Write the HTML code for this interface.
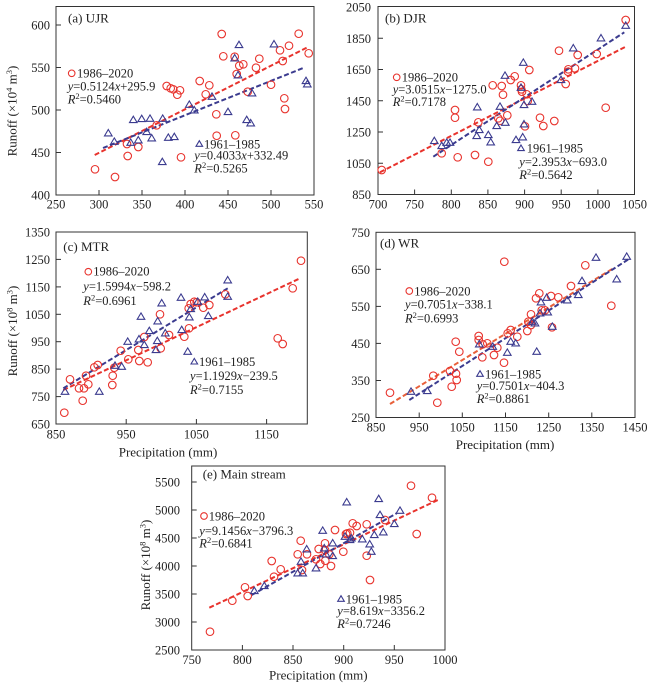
<!DOCTYPE html>
<html><head><meta charset="utf-8"><style>
html,body{margin:0;padding:0;background:#fff;}
svg{display:block;font-family:"Liberation Serif",serif;}
.t{font-size:12.5px;fill:#222;}
.ti{font-size:13px;fill:#222;}
.ax{font-size:13px;fill:#222;}
.fr{fill:none;stroke:#333;stroke-width:1;}
.tk{stroke:#333;stroke-width:1;}
.rc circle{fill:none;stroke:#e8332d;stroke-width:1.1;}
.bt path{fill:none;stroke:#3b3b8f;stroke-width:1.1;}
.rl{stroke:#e8332d;stroke-width:2;stroke-dasharray:5 2.5;fill:none;}
.bl{stroke:#3b3b8f;stroke-width:2;stroke-dasharray:5 2.5;fill:none;}
.i{font-style:italic;}
</style></head><body>
<svg width="650" height="684" viewBox="0 0 650 684" xmlns="http://www.w3.org/2000/svg">

<!-- ========== Panel (a) ========== -->
<rect class="fr" x="56" y="6.5" width="258" height="188.5"/>
<g class="tk">
<line x1="99" y1="195" x2="99" y2="190"/><line x1="142" y1="195" x2="142" y2="190"/><line x1="185" y1="195" x2="185" y2="190"/><line x1="228" y1="195" x2="228" y2="190"/><line x1="271" y1="195" x2="271" y2="190"/>
<line x1="56" y1="152.5" x2="61" y2="152.5"/><line x1="56" y1="110" x2="61" y2="110"/><line x1="56" y1="67.5" x2="61" y2="67.5"/><line x1="56" y1="25" x2="61" y2="25"/>
</g>
<g class="t" text-anchor="end">
<text x="50" y="199.5">400</text><text x="50" y="157">450</text><text x="50" y="114.5">500</text><text x="50" y="72">550</text><text x="50" y="29.5">600</text>
</g>
<g class="t" text-anchor="middle">
<text x="56" y="208.5">250</text><text x="99" y="208.5">300</text><text x="142" y="208.5">350</text><text x="185" y="208.5">400</text><text x="228" y="208.5">450</text><text x="271" y="208.5">500</text><text x="314" y="208.5">550</text>
</g>
<text class="ax" transform="translate(16.5,111) rotate(-90)" text-anchor="middle">Runoff (×10<tspan font-size="8.5" dy="-4.5">4</tspan><tspan dy="4.5"> m</tspan><tspan font-size="8.5" dy="-4.5">3</tspan><tspan dy="4.5">)</tspan></text>
<text class="ti" x="68" y="22.5">(a) UJR</text>
<path class="rl" d="M94.7,155 L308,47"/>
<path class="bl" d="M103,148 L305,67.3"/>
<g class="rc">
<circle cx="95" cy="169.3" r="3.8"/><circle cx="115" cy="177" r="3.8"/><circle cx="127" cy="144" r="3.8"/><circle cx="127.7" cy="156" r="3.8"/><circle cx="138.3" cy="147" r="3.8"/><circle cx="156.7" cy="125.3" r="3.8"/><circle cx="166.7" cy="86" r="3.8"/><circle cx="170.7" cy="88.3" r="3.8"/><circle cx="173.3" cy="89.3" r="3.8"/><circle cx="177.3" cy="94.7" r="3.8"/><circle cx="180" cy="90.3" r="3.8"/><circle cx="181" cy="157.3" r="3.8"/><circle cx="199.7" cy="81" r="3.8"/><circle cx="205.7" cy="94.3" r="3.8"/><circle cx="209.3" cy="85.3" r="3.8"/><circle cx="216.3" cy="114.3" r="3.8"/><circle cx="216.7" cy="135.7" r="3.8"/><circle cx="221.7" cy="34" r="3.8"/><circle cx="223.3" cy="56.3" r="3.8"/><circle cx="234.7" cy="56.7" r="3.8"/><circle cx="235.3" cy="135.3" r="3.8"/><circle cx="236.7" cy="74" r="3.8"/><circle cx="239.3" cy="65.7" r="3.8"/><circle cx="243.3" cy="64.3" r="3.8"/><circle cx="247.7" cy="91.7" r="3.8"/><circle cx="256" cy="67.7" r="3.8"/><circle cx="259.3" cy="58.7" r="3.8"/><circle cx="271" cy="84.7" r="3.8"/><circle cx="280" cy="50.3" r="3.8"/><circle cx="282.7" cy="61" r="3.8"/><circle cx="284.3" cy="98.3" r="3.8"/><circle cx="285" cy="109" r="3.8"/><circle cx="289" cy="45.7" r="3.8"/><circle cx="298.7" cy="33.7" r="3.8"/><circle cx="308.7" cy="53.3" r="3.8"/>
<circle cx="71.7" cy="73.3" r="3.3"/>
</g>
<g class="bt">
<path d="M108.3,133.3m0,-3.8l3.8,6.4h-7.6z"/><path d="M114.3,141.7m0,-3.8l3.8,6.4h-7.6z"/><path d="M130.7,142.7m0,-3.8l3.8,6.4h-7.6z"/><path d="M138.3,140.3m0,-3.8l3.8,6.4h-7.6z"/><path d="M133.3,120m0,-3.8l3.8,6.4h-7.6z"/><path d="M141.7,119m0,-3.8l3.8,6.4h-7.6z"/><path d="M150,118.7m0,-3.8l3.8,6.4h-7.6z"/><path d="M162.7,118.7m0,-3.8l3.8,6.4h-7.6z"/><path d="M146.7,132m0,-3.8l3.8,6.4h-7.6z"/><path d="M151.7,138.3m0,-3.8l3.8,6.4h-7.6z"/><path d="M162.3,162m0,-3.8l3.8,6.4h-7.6z"/><path d="M168.3,137.7m0,-3.8l3.8,6.4h-7.6z"/><path d="M174.3,137m0,-3.8l3.8,6.4h-7.6z"/><path d="M189.3,104.7m0,-3.8l3.8,6.4h-7.6z"/><path d="M194.3,110.3m0,-3.8l3.8,6.4h-7.6z"/><path d="M212,96.7m0,-3.8l3.8,6.4h-7.6z"/><path d="M228,112m0,-3.8l3.8,6.4h-7.6z"/><path d="M234.7,58.3m0,-3.8l3.8,6.4h-7.6z"/><path d="M239,45m0,-3.8l3.8,6.4h-7.6z"/><path d="M238,75.3m0,-3.8l3.8,6.4h-7.6z"/><path d="M246.7,120m0,-3.8l3.8,6.4h-7.6z"/><path d="M250.7,123.3m0,-3.8l3.8,6.4h-7.6z"/><path d="M252,93.3m0,-3.8l3.8,6.4h-7.6z"/><path d="M274,44.3m0,-3.8l3.8,6.4h-7.6z"/><path d="M306,81m0,-3.8l3.8,6.4h-7.6z"/><path d="M307.3,84.3m0,-3.8l3.8,6.4h-7.6z"/>
<path d="M199.3,144m0,-3.3l3.3,5.6h-6.6z"/>
</g>
<g class="t">
<text x="77" y="77.5">1986–2020</text>
<text x="67.7" y="90.3"><tspan class="i">y</tspan>=0.5124<tspan class="i">x</tspan>+295.9</text>
<text x="67.7" y="103.5"><tspan class="i">R</tspan><tspan font-size="8.5" dy="-4.5">2</tspan><tspan dy="4.5">=0.5460</tspan></text>
<text x="204" y="148.3">1961–1985</text>
<text x="194.3" y="159.3"><tspan class="i">y</tspan>=0.4033<tspan class="i">x</tspan>+332.49</text>
<text x="194.3" y="172.5"><tspan class="i">R</tspan><tspan font-size="8.5" dy="-4.5">2</tspan><tspan dy="4.5">=0.5265</tspan></text>
</g>

<!-- ========== Panel (b) ========== -->
<rect class="fr" x="378" y="6.5" width="256.5" height="188"/>
<g class="tk">
<line x1="414.6" y1="194.5" x2="414.6" y2="189.5"/><line x1="451.3" y1="194.5" x2="451.3" y2="189.5"/><line x1="487.9" y1="194.5" x2="487.9" y2="189.5"/><line x1="524.6" y1="194.5" x2="524.6" y2="189.5"/><line x1="561.2" y1="194.5" x2="561.2" y2="189.5"/><line x1="597.9" y1="194.5" x2="597.9" y2="189.5"/>
<line x1="378" y1="163.25" x2="383" y2="163.25"/><line x1="378" y1="132" x2="383" y2="132"/><line x1="378" y1="100.75" x2="383" y2="100.75"/><line x1="378" y1="69.5" x2="383" y2="69.5"/><line x1="378" y1="38.25" x2="383" y2="38.25"/>
</g>
<g class="t" text-anchor="end">
<text x="371" y="199">850</text><text x="371" y="167.75">1050</text><text x="371" y="136.5">1250</text><text x="371" y="105.25">1450</text><text x="371" y="74">1650</text><text x="371" y="42.75">1850</text><text x="371" y="11.5">2050</text>
</g>
<g class="t" text-anchor="middle">
<text x="378" y="208.5">700</text><text x="414.6" y="208.5">750</text><text x="451.3" y="208.5">800</text><text x="487.9" y="208.5">850</text><text x="524.6" y="208.5">900</text><text x="561.2" y="208.5">950</text><text x="597.9" y="208.5">1000</text><text x="634.5" y="208.5">1050</text>
</g>
<text class="ti" x="385" y="22.5">(b) DJR</text>
<path class="rl" d="M380,172.3 L625.7,46.7"/>
<path class="bl" d="M433.3,156.7 L624.3,32.3"/>
<g class="rc">
<circle cx="381.7" cy="170" r="3.8"/><circle cx="441.7" cy="153.3" r="3.8"/><circle cx="457.7" cy="157.3" r="3.8"/><circle cx="455" cy="110" r="3.8"/><circle cx="455" cy="117.7" r="3.8"/><circle cx="475" cy="155" r="3.8"/><circle cx="478.3" cy="122.3" r="3.8"/><circle cx="488.3" cy="161.7" r="3.8"/><circle cx="492.7" cy="85.3" r="3.8"/><circle cx="498.3" cy="118.3" r="3.8"/><circle cx="500" cy="120.7" r="3.8"/><circle cx="501.7" cy="86" r="3.8"/><circle cx="503" cy="94.7" r="3.8"/><circle cx="507.3" cy="115.3" r="3.8"/><circle cx="510.7" cy="80" r="3.8"/><circle cx="514.7" cy="76.3" r="3.8"/><circle cx="521" cy="85.3" r="3.8"/><circle cx="521.3" cy="89.3" r="3.8"/><circle cx="522" cy="91.7" r="3.8"/><circle cx="525" cy="126.3" r="3.8"/><circle cx="526.7" cy="94.3" r="3.8"/><circle cx="527.7" cy="101" r="3.8"/><circle cx="529.3" cy="70" r="3.8"/><circle cx="540" cy="117.7" r="3.8"/><circle cx="543.3" cy="126" r="3.8"/><circle cx="554.3" cy="121" r="3.8"/><circle cx="559" cy="50.7" r="3.8"/><circle cx="565.7" cy="84" r="3.8"/><circle cx="568.3" cy="69.3" r="3.8"/><circle cx="568" cy="71.7" r="3.8"/><circle cx="575" cy="68.3" r="3.8"/><circle cx="577.7" cy="55" r="3.8"/><circle cx="596.7" cy="54" r="3.8"/><circle cx="605.7" cy="107.7" r="3.8"/><circle cx="625.7" cy="20" r="3.8"/>
<circle cx="396.7" cy="77.3" r="3.3"/>
</g>
<g class="bt">
<path d="M434.3,141m0,-3.8l3.8,6.4h-7.6z"/><path d="M441.7,146m0,-3.8l3.8,6.4h-7.6z"/><path d="M446.7,142.7m0,-3.8l3.8,6.4h-7.6z"/><path d="M450,142.7m0,-3.8l3.8,6.4h-7.6z"/><path d="M477.3,107.3m0,-3.8l3.8,6.4h-7.6z"/><path d="M476.7,136m0,-3.8l3.8,6.4h-7.6z"/><path d="M479.3,130m0,-3.8l3.8,6.4h-7.6z"/><path d="M488.3,135m0,-3.8l3.8,6.4h-7.6z"/><path d="M490.7,142.3m0,-3.8l3.8,6.4h-7.6z"/><path d="M496.7,126m0,-3.8l3.8,6.4h-7.6z"/><path d="M500,106.7m0,-3.8l3.8,6.4h-7.6z"/><path d="M505,75.7m0,-3.8l3.8,6.4h-7.6z"/><path d="M505.3,122.7m0,-3.8l3.8,6.4h-7.6z"/><path d="M516,140m0,-3.8l3.8,6.4h-7.6z"/><path d="M523.3,62.7m0,-3.8l3.8,6.4h-7.6z"/><path d="M521,87.7m0,-3.8l3.8,6.4h-7.6z"/><path d="M522.7,137.3m0,-3.8l3.8,6.4h-7.6z"/><path d="M524,105m0,-3.8l3.8,6.4h-7.6z"/><path d="M524,124.3m0,-3.8l3.8,6.4h-7.6z"/><path d="M532,101.7m0,-3.8l3.8,6.4h-7.6z"/><path d="M561,80m0,-3.8l3.8,6.4h-7.6z"/><path d="M573.3,48.3m0,-3.8l3.8,6.4h-7.6z"/><path d="M601,38.3m0,-3.8l3.8,6.4h-7.6z"/><path d="M625.7,25.7m0,-3.8l3.8,6.4h-7.6z"/>
<path d="M521,148.3m0,-3.3l3.3,5.6h-6.6z"/>
</g>
<g class="t">
<text x="401.7" y="81.5">1986–2020</text>
<text x="392.7" y="93.5"><tspan class="i">y</tspan>=3.0515<tspan class="i">x</tspan>−1275.0</text>
<text x="392.7" y="106"><tspan class="i">R</tspan><tspan font-size="8.5" dy="-4.5">2</tspan><tspan dy="4.5">=0.7178</tspan></text>
<text x="526.7" y="152.5">1961–1985</text>
<text x="519.3" y="166"><tspan class="i">y</tspan>=2.3953<tspan class="i">x</tspan>−693.0</text>
<text x="519.3" y="179"><tspan class="i">R</tspan><tspan font-size="8.5" dy="-4.5">2</tspan><tspan dy="4.5">=0.5642</tspan></text>
</g>

<!-- ========== Panel (c) ========== -->
<rect class="fr" x="56" y="232" width="251.3" height="192"/>
<g class="tk">
<line x1="126.2" y1="424" x2="126.2" y2="419"/><line x1="196.4" y1="424" x2="196.4" y2="419"/><line x1="266.6" y1="424" x2="266.6" y2="419"/>
<line x1="56" y1="396.6" x2="61" y2="396.6"/><line x1="56" y1="369.1" x2="61" y2="369.1"/><line x1="56" y1="341.7" x2="61" y2="341.7"/><line x1="56" y1="314.3" x2="61" y2="314.3"/><line x1="56" y1="286.9" x2="61" y2="286.9"/><line x1="56" y1="259.4" x2="61" y2="259.4"/>
</g>
<g class="t" text-anchor="end">
<text x="50" y="428.5">650</text><text x="50" y="401.1">750</text><text x="50" y="373.6">850</text><text x="50" y="346.2">950</text><text x="50" y="318.8">1050</text><text x="50" y="291.4">1150</text><text x="50" y="263.9">1250</text><text x="50" y="236.5">1350</text>
</g>
<g class="t" text-anchor="middle">
<text x="56" y="438.5">850</text><text x="126.2" y="438.5">950</text><text x="196.4" y="438.5">1050</text><text x="266.6" y="438.5">1150</text>
</g>
<text class="ax" x="168" y="456.5" text-anchor="middle">Precipitation (mm)</text>
<text class="ax" transform="translate(17,331) rotate(-90)" text-anchor="middle">Runoff (×10<tspan font-size="8.5" dy="-4.5">8</tspan><tspan dy="4.5"> m</tspan><tspan font-size="8.5" dy="-4.5">3</tspan><tspan dy="4.5">)</tspan></text>
<text class="ti" x="63.3" y="251">(c) MTR</text>
<path class="rl" d="M63.3,390 L300,278.3"/>
<path class="bl" d="M63.3,388.3 L227.7,288.3"/>
<g class="rc">
<circle cx="64.3" cy="412.7" r="3.8"/><circle cx="70" cy="379.3" r="3.8"/><circle cx="79" cy="388.3" r="3.8"/><circle cx="82.7" cy="400.7" r="3.8"/><circle cx="84" cy="388.3" r="3.8"/><circle cx="86" cy="375.7" r="3.8"/><circle cx="88.3" cy="384.3" r="3.8"/><circle cx="94.3" cy="367.3" r="3.8"/><circle cx="97.7" cy="365" r="3.8"/><circle cx="112.3" cy="385" r="3.8"/><circle cx="112.7" cy="375.7" r="3.8"/><circle cx="114.3" cy="367.7" r="3.8"/><circle cx="120.7" cy="350.7" r="3.8"/><circle cx="128.3" cy="359.3" r="3.8"/><circle cx="138.3" cy="350" r="3.8"/><circle cx="139.3" cy="361" r="3.8"/><circle cx="144.3" cy="337" r="3.8"/><circle cx="147.7" cy="362.3" r="3.8"/><circle cx="160" cy="314.3" r="3.8"/><circle cx="160.7" cy="348.3" r="3.8"/><circle cx="169" cy="335" r="3.8"/><circle cx="184.3" cy="336.7" r="3.8"/><circle cx="189" cy="328.3" r="3.8"/><circle cx="188.7" cy="308.3" r="3.8"/><circle cx="190.7" cy="304" r="3.8"/><circle cx="194.3" cy="301.7" r="3.8"/><circle cx="196.7" cy="302.3" r="3.8"/><circle cx="203.3" cy="307.7" r="3.8"/><circle cx="209.3" cy="305" r="3.8"/><circle cx="225.3" cy="294.3" r="3.8"/><circle cx="277.7" cy="338.3" r="3.8"/><circle cx="282.7" cy="344" r="3.8"/><circle cx="292.7" cy="288.3" r="3.8"/><circle cx="301" cy="260.7" r="3.8"/>
<circle cx="88.3" cy="271.7" r="3.3"/>
</g>
<g class="bt">
<path d="M65,391.7m0,-3.8l3.8,6.4h-7.6z"/><path d="M99.3,391.7m0,-3.8l3.8,6.4h-7.6z"/><path d="M115,365.7m0,-3.8l3.8,6.4h-7.6z"/><path d="M121.7,366.7m0,-3.8l3.8,6.4h-7.6z"/><path d="M127.7,341.7m0,-3.8l3.8,6.4h-7.6z"/><path d="M139,339.3m0,-3.8l3.8,6.4h-7.6z"/><path d="M141,316.7m0,-3.8l3.8,6.4h-7.6z"/><path d="M144.3,345m0,-3.8l3.8,6.4h-7.6z"/><path d="M149.3,331m0,-3.8l3.8,6.4h-7.6z"/><path d="M156,350m0,-3.8l3.8,6.4h-7.6z"/><path d="M157.3,341m0,-3.8l3.8,6.4h-7.6z"/><path d="M157.7,321.3m0,-3.8l3.8,6.4h-7.6z"/><path d="M161.7,303.3m0,-3.8l3.8,6.4h-7.6z"/><path d="M165.3,333.3m0,-3.8l3.8,6.4h-7.6z"/><path d="M181,297.7m0,-3.8l3.8,6.4h-7.6z"/><path d="M181.7,330m0,-3.8l3.8,6.4h-7.6z"/><path d="M187.7,351.7m0,-3.8l3.8,6.4h-7.6z"/><path d="M189.3,317.3m0,-3.8l3.8,6.4h-7.6z"/><path d="M190.7,309m0,-3.8l3.8,6.4h-7.6z"/><path d="M197.7,301.7m0,-3.8l3.8,6.4h-7.6z"/><path d="M204.7,297.3m0,-3.8l3.8,6.4h-7.6z"/><path d="M208.3,316m0,-3.8l3.8,6.4h-7.6z"/><path d="M227.7,280.3m0,-3.8l3.8,6.4h-7.6z"/><path d="M227.7,296.7m0,-3.8l3.8,6.4h-7.6z"/>
<path d="M194.3,361.7m0,-3.3l3.3,5.6h-6.6z"/>
</g>
<g class="t">
<text x="93.3" y="275.7">1986–2020</text>
<text x="83.3" y="290.7"><tspan class="i">y</tspan>=1.5994<tspan class="i">x</tspan>−598.2</text>
<text x="83.3" y="305"><tspan class="i">R</tspan><tspan font-size="8.5" dy="-4.5">2</tspan><tspan dy="4.5">=0.6961</tspan></text>
<text x="199" y="366">1961–1985</text>
<text x="190" y="380"><tspan class="i">y</tspan>=1.1929<tspan class="i">x</tspan>−239.5</text>
<text x="190" y="394"><tspan class="i">R</tspan><tspan font-size="8.5" dy="-4.5">2</tspan><tspan dy="4.5">=0.7155</tspan></text>
</g>

<!-- ========== Panel (d) ========== -->
<rect class="fr" x="376" y="232.3" width="259" height="185.2"/>
<g class="tk">
<line x1="419.2" y1="417.5" x2="419.2" y2="412.5"/><line x1="462.3" y1="417.5" x2="462.3" y2="412.5"/><line x1="505.5" y1="417.5" x2="505.5" y2="412.5"/><line x1="548.7" y1="417.5" x2="548.7" y2="412.5"/><line x1="591.8" y1="417.5" x2="591.8" y2="412.5"/>
<line x1="376" y1="380.5" x2="381" y2="380.5"/><line x1="376" y1="343.4" x2="381" y2="343.4"/><line x1="376" y1="306.4" x2="381" y2="306.4"/><line x1="376" y1="269.3" x2="381" y2="269.3"/>
</g>
<g class="t" text-anchor="end">
<text x="370" y="422">250</text><text x="370" y="385">350</text><text x="370" y="347.9">450</text><text x="370" y="310.9">550</text><text x="370" y="273.8">650</text><text x="370" y="236.8">750</text>
</g>
<g class="t" text-anchor="middle">
<text x="376" y="431.5">850</text><text x="419.2" y="431.5">950</text><text x="462.3" y="431.5">1050</text><text x="505.5" y="431.5">1150</text><text x="548.7" y="431.5">1250</text><text x="591.8" y="431.5">1350</text><text x="635" y="431.5">1450</text>
</g>
<text class="ax" x="505" y="449" text-anchor="middle">Precipitation (mm)</text>
<text class="ti" x="380" y="247.5">(d) WR</text>
<path class="rl" d="M390,404 L613.3,268.3" style="stroke:#e8603a"/>
<path class="bl" d="M409.3,400 L630,258.3"/>
<g class="rc">
<circle cx="390" cy="392.7" r="3.8"/><circle cx="433.3" cy="375.7" r="3.8"/><circle cx="437.3" cy="402.7" r="3.8"/><circle cx="450" cy="371" r="3.8"/><circle cx="451.7" cy="386.7" r="3.8"/><circle cx="455.7" cy="341.7" r="3.8"/><circle cx="456" cy="373.7" r="3.8"/><circle cx="456.7" cy="380" r="3.8"/><circle cx="459.3" cy="351.7" r="3.8"/><circle cx="478.7" cy="336" r="3.8"/><circle cx="478.7" cy="340" r="3.8"/><circle cx="482.3" cy="357.3" r="3.8"/><circle cx="482.7" cy="344.3" r="3.8"/><circle cx="487.3" cy="343.3" r="3.8"/><circle cx="494" cy="355" r="3.8"/><circle cx="497.3" cy="347.7" r="3.8"/><circle cx="504.3" cy="261.7" r="3.8"/><circle cx="504" cy="362.7" r="3.8"/><circle cx="507.7" cy="333.3" r="3.8"/><circle cx="510.7" cy="330" r="3.8"/><circle cx="517.3" cy="336.7" r="3.8"/><circle cx="527.3" cy="331" r="3.8"/><circle cx="528.3" cy="321.7" r="3.8"/><circle cx="531" cy="325" r="3.8"/><circle cx="531" cy="314.3" r="3.8"/><circle cx="536" cy="298.3" r="3.8"/><circle cx="539.3" cy="293.3" r="3.8"/><circle cx="541.7" cy="310.3" r="3.8"/><circle cx="545" cy="310.3" r="3.8"/><circle cx="551" cy="296" r="3.8"/><circle cx="552" cy="327.3" r="3.8"/><circle cx="558.3" cy="297.3" r="3.8"/><circle cx="571" cy="286" r="3.8"/><circle cx="585.3" cy="265.3" r="3.8"/><circle cx="611.3" cy="305.7" r="3.8"/>
<circle cx="409.3" cy="291" r="3.3"/>
</g>
<g class="bt">
<path d="M411,391.7m0,-3.8l3.8,6.4h-7.6z"/><path d="M427.3,391m0,-3.8l3.8,6.4h-7.6z"/><path d="M479.3,344.3m0,-3.8l3.8,6.4h-7.6z"/><path d="M492.7,346.7m0,-3.8l3.8,6.4h-7.6z"/><path d="M507.3,352.7m0,-3.8l3.8,6.4h-7.6z"/><path d="M510.7,341.7m0,-3.8l3.8,6.4h-7.6z"/><path d="M515.7,343.3m0,-3.8l3.8,6.4h-7.6z"/><path d="M532.3,321.7m0,-3.8l3.8,6.4h-7.6z"/><path d="M535,323.3m0,-3.8l3.8,6.4h-7.6z"/><path d="M536.7,351.7m0,-3.8l3.8,6.4h-7.6z"/><path d="M540,313.3m0,-3.8l3.8,6.4h-7.6z"/><path d="M541,302.3m0,-3.8l3.8,6.4h-7.6z"/><path d="M546.7,297.7m0,-3.8l3.8,6.4h-7.6z"/><path d="M547.7,312.3m0,-3.8l3.8,6.4h-7.6z"/><path d="M552.3,326.7m0,-3.8l3.8,6.4h-7.6z"/><path d="M567.3,300.3m0,-3.8l3.8,6.4h-7.6z"/><path d="M578.3,295m0,-3.8l3.8,6.4h-7.6z"/><path d="M582,281m0,-3.8l3.8,6.4h-7.6z"/><path d="M596,257.7m0,-3.8l3.8,6.4h-7.6z"/><path d="M616.7,279.3m0,-3.8l3.8,6.4h-7.6z"/><path d="M626.7,256.7m0,-3.8l3.8,6.4h-7.6z"/>
<path d="M480,374m0,-3.3l3.3,5.6h-6.6z"/>
</g>
<g class="t">
<text x="414.3" y="295.3">1986–2020</text>
<text x="405" y="308.5"><tspan class="i">y</tspan>=0.7051<tspan class="i">x</tspan>−338.1</text>
<text x="405" y="322.5"><tspan class="i">R</tspan><tspan font-size="8.5" dy="-4.5">2</tspan><tspan dy="4.5">=0.6993</tspan></text>
<text x="485" y="378.3">1961–1985</text>
<text x="476.7" y="390"><tspan class="i">y</tspan>=0.7501<tspan class="i">x</tspan>−404.3</text>
<text x="476.7" y="403"><tspan class="i">R</tspan><tspan font-size="8.5" dy="-4.5">2</tspan><tspan dy="4.5">=0.8861</tspan></text>
</g>

<!-- ========== Panel (e) ========== -->
<rect class="fr" x="191.7" y="466" width="253.3" height="184"/>
<g class="tk">
<line x1="242.4" y1="650" x2="242.4" y2="645"/><line x1="293" y1="650" x2="293" y2="645"/><line x1="343.7" y1="650" x2="343.7" y2="645"/><line x1="394.3" y1="650" x2="394.3" y2="645"/>
<line x1="191.7" y1="622" x2="196.7" y2="622"/><line x1="191.7" y1="594" x2="196.7" y2="594"/><line x1="191.7" y1="566" x2="196.7" y2="566"/><line x1="191.7" y1="538" x2="196.7" y2="538"/><line x1="191.7" y1="510" x2="196.7" y2="510"/><line x1="191.7" y1="482" x2="196.7" y2="482"/>
</g>
<g class="t" text-anchor="end">
<text x="180" y="654.5">2500</text><text x="180" y="626.5">3000</text><text x="180" y="598.5">3500</text><text x="180" y="570.5">4000</text><text x="180" y="542.5">4500</text><text x="180" y="514.5">5000</text><text x="180" y="486.5">5500</text>
</g>
<g class="t" text-anchor="middle">
<text x="191.7" y="664">750</text><text x="242.4" y="664">800</text><text x="293" y="664">850</text><text x="343.7" y="664">900</text><text x="394.3" y="664">950</text><text x="445" y="664">1000</text>
</g>
<text class="ax" x="318.3" y="679.5" text-anchor="middle">Precipitation (mm)</text>
<text class="ax" transform="translate(150,565) rotate(-90)" text-anchor="middle">Runoff (×10<tspan font-size="8.5" dy="-4.5">8</tspan><tspan dy="4.5"> m</tspan><tspan font-size="8.5" dy="-4.5">3</tspan><tspan dy="4.5">)</tspan></text>
<text class="ti" x="202.7" y="478.5">(e) Main stream</text>
<path class="rl" d="M209.3,607.7 L439.3,499.3"/>
<path class="bl" d="M251.7,595 L396.7,513.3"/>
<g class="rc">
<circle cx="210" cy="631.7" r="3.8"/><circle cx="232.3" cy="600.7" r="3.8"/><circle cx="245" cy="587.3" r="3.8"/><circle cx="247.7" cy="596" r="3.8"/><circle cx="271.7" cy="561" r="3.8"/><circle cx="274" cy="576.7" r="3.8"/><circle cx="280.7" cy="569.3" r="3.8"/><circle cx="297.7" cy="554.3" r="3.8"/><circle cx="300.7" cy="540.7" r="3.8"/><circle cx="302" cy="570" r="3.8"/><circle cx="307" cy="554.3" r="3.8"/><circle cx="316" cy="559.3" r="3.8"/><circle cx="318.7" cy="549" r="3.8"/><circle cx="320.3" cy="564" r="3.8"/><circle cx="325" cy="543.3" r="3.8"/><circle cx="325" cy="550" r="3.8"/><circle cx="325.3" cy="560.7" r="3.8"/><circle cx="329.3" cy="554.3" r="3.8"/><circle cx="331" cy="566" r="3.8"/><circle cx="335" cy="530" r="3.8"/><circle cx="343.3" cy="551.7" r="3.8"/><circle cx="346" cy="534" r="3.8"/><circle cx="347.3" cy="533.3" r="3.8"/><circle cx="350" cy="532.7" r="3.8"/><circle cx="352.7" cy="523.3" r="3.8"/><circle cx="356.7" cy="526" r="3.8"/><circle cx="366.7" cy="524.3" r="3.8"/><circle cx="366.7" cy="555.7" r="3.8"/><circle cx="370" cy="580" r="3.8"/><circle cx="385" cy="520" r="3.8"/><circle cx="411" cy="485.7" r="3.8"/><circle cx="416.7" cy="534" r="3.8"/><circle cx="432" cy="497.7" r="3.8"/>
<circle cx="204" cy="516" r="3.3"/>
</g>
<g class="bt">
<path d="M254.3,591m0,-3.8l3.8,6.4h-7.6z"/><path d="M264.3,586m0,-3.8l3.8,6.4h-7.6z"/><path d="M297.7,573.3m0,-3.8l3.8,6.4h-7.6z"/><path d="M302.7,573.3m0,-3.8l3.8,6.4h-7.6z"/><path d="M301,561.7m0,-3.8l3.8,6.4h-7.6z"/><path d="M306.7,549.3m0,-3.8l3.8,6.4h-7.6z"/><path d="M316,568.3m0,-3.8l3.8,6.4h-7.6z"/><path d="M322.7,530.7m0,-3.8l3.8,6.4h-7.6z"/><path d="M324.3,548.3m0,-3.8l3.8,6.4h-7.6z"/><path d="M326,554.3m0,-3.8l3.8,6.4h-7.6z"/><path d="M332.7,543.3m0,-3.8l3.8,6.4h-7.6z"/><path d="M332.7,556m0,-3.8l3.8,6.4h-7.6z"/><path d="M346.7,502.3m0,-3.8l3.8,6.4h-7.6z"/><path d="M350,540m0,-3.8l3.8,6.4h-7.6z"/><path d="M351.3,538.3m0,-3.8l3.8,6.4h-7.6z"/><path d="M362.3,539.3m0,-3.8l3.8,6.4h-7.6z"/><path d="M369.7,544.3m0,-3.8l3.8,6.4h-7.6z"/><path d="M371.3,551.7m0,-3.8l3.8,6.4h-7.6z"/><path d="M374.3,535m0,-3.8l3.8,6.4h-7.6z"/><path d="M378.7,499m0,-3.8l3.8,6.4h-7.6z"/><path d="M380,515m0,-3.8l3.8,6.4h-7.6z"/><path d="M383.3,532.3m0,-3.8l3.8,6.4h-7.6z"/><path d="M394.3,524m0,-3.8l3.8,6.4h-7.6z"/><path d="M400,510.7m0,-3.8l3.8,6.4h-7.6z"/><path d="M345,536.7m0,-3.8l3.8,6.4h-7.6z"/>
<path d="M341,599m0,-3.3l3.3,5.6h-6.6z"/>
</g>
<g class="t">
<text x="208.7" y="520.3">1986–2020</text>
<text x="199.3" y="535"><tspan class="i">y</tspan>=9.1456<tspan class="i">x</tspan>−3796.3</text>
<text x="199.3" y="547.5"><tspan class="i">R</tspan><tspan font-size="8.5" dy="-4.5">2</tspan><tspan dy="4.5">=0.6841</tspan></text>
<text x="345.7" y="603.3">1961–1985</text>
<text x="337.3" y="615"><tspan class="i">y</tspan>=8.619<tspan class="i">x</tspan>−3356.2</text>
<text x="337.3" y="628"><tspan class="i">R</tspan><tspan font-size="8.5" dy="-4.5">2</tspan><tspan dy="4.5">=0.7246</tspan></text>
</g>
</svg>
</body></html>
